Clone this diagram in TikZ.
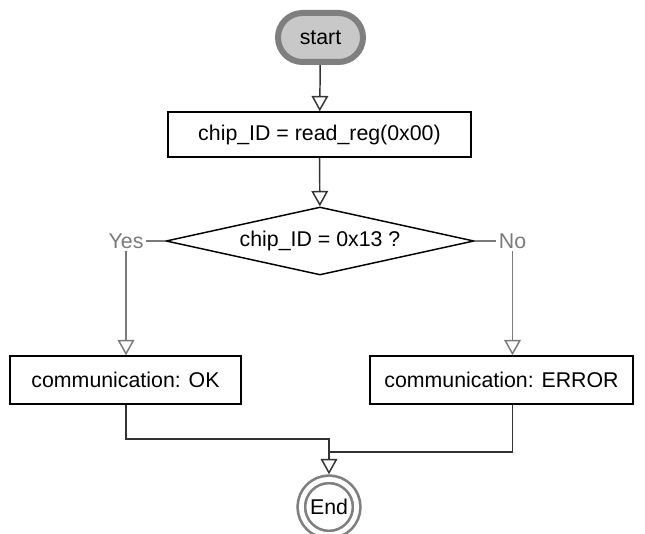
\documentclass[tikz,border=0pt]{standalone}
\usepackage{fontspec}
\setmainfont{Liberation Sans}
\usetikzlibrary{arrows.meta,shapes.geometric,shapes.misc}

\definecolor{startfill}{HTML}{C8C8C8}
\definecolor{startline}{HTML}{7F7F7F}
\definecolor{branch}{HTML}{7A7A7A}
\definecolor{flowline}{HTML}{333333}

\begin{document}
\begin{tikzpicture}[x=0.75pt,y=-0.75pt,
    every node/.style={font=\fontsize{16}{19}\selectfont},
    box/.style={draw=black,line width=1.1pt,rectangle,inner sep=0pt},
    startnode/.style={rounded rectangle,draw=startline,fill=startfill,line width=4.5pt,
        minimum width=63.75pt,minimum height=36.75pt,inner sep=0pt},
    decision/.style={diamond,draw=black,line width=1.1pt,aspect=4.5,inner sep=0pt,
        minimum width=231pt,minimum height=51pt},
    endnode/.style={circle,draw=startline,line width=2pt,double=white,double distance=3.6pt,
        minimum size=41.5pt,inner sep=0pt,outer sep=3.8pt},
    label/.style={text=branch,inner sep=2pt},
    flow/.style={draw=flowline,line width=1.1pt,-{Triangle[open,length=11.5pt,width=12.5pt]}},
    side/.style={draw=branch,line width=1.1pt},
    sideflow/.style={side,-{Triangle[open,length=11.5pt,width=12.5pt]}},
    link/.style={draw=flowline,line width=1.1pt}]
  \useasboundingbox (0,0) rectangle (645,534);

  % cvorovi
  \node[startnode] (start) at (320.5,37.5) {start};
  \node[box,minimum width=227.25pt,minimum height=33.75pt] (readreg) at (319.5,134.5) {chip\_ID = read\_reg(0x00)};
  \node[decision] (check) at (320,241) {chip\_ID = 0x13 ?};
  \node[label] (yes) at (126,241) {Yes};
  \node[label] (no) at (512.5,241) {No};
  \node[box,minimum width=173.25pt,minimum height=36pt] (ok) at (125.5,380) {communication: OK};
  \node[box,minimum width=197.25pt,minimum height=36pt] (err) at (501.5,380) {communication: ERROR};
  \node[endnode] (stop) at (329,507) {End};

  \coordinate (m1) at (329,439);
  \coordinate (m2) at (329,452);

  % glavni tok
  \draw[flow] (start) -- (readreg);
  \draw[flow] (readreg) -- (check);

  % grane
  \draw[side] (check.west) -- (yes.east);
  \draw[side] (check.east) -- (no.west);
  \draw[sideflow] (yes.south) -- (yes.south |- ok.north);
  \draw[sideflow] (no.south) -- (no.south |- err.north);

  % spajanje
  \draw[flow] (ok.south -| yes) |- (m1) -- (stop.north);
  \draw[link] (err.south -| no) |- (m2);
\end{tikzpicture}
\end{document}
